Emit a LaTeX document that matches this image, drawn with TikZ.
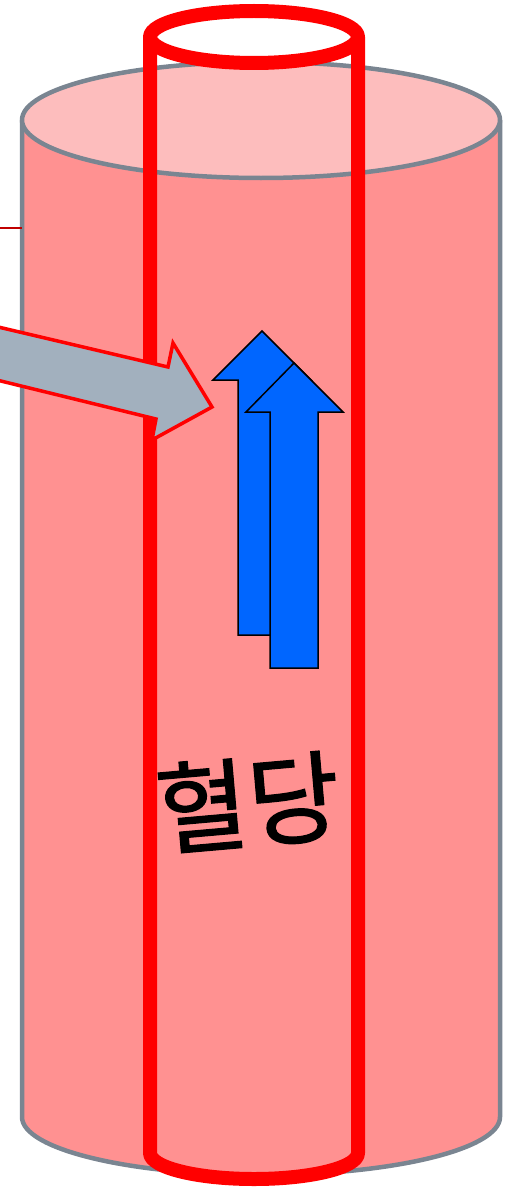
\documentclass[tikz,border=0pt]{standalone}
\usepackage{fontspec}
\newfontfamily\krfont[FakeBold=1.2]{Noto Sans CJK KR}
\definecolor{bodyfill}{HTML}{FF9191}
\definecolor{topfill}{HTML}{FDBDBD}
\definecolor{rimgray}{HTML}{7A8591}
\definecolor{arrowgray}{HTML}{A2B0BE}
\definecolor{flowblue}{HTML}{0066FF}
\definecolor{tubered}{HTML}{FF0000}
\definecolor{tickred}{HTML}{C00000}
\tikzset{
  vessel/.style={draw=rimgray, line width=4.5pt, line join=round},
  tube/.style={draw=tubered, line width=14pt, line join=round},
  inflow/.style={draw=tubered, fill=arrowgray, line width=3.5pt, line join=miter},
  upflow/.style={draw=black, fill=flowblue, line width=1.5pt, line join=miter},
  label/.style={font=\krfont\fontsize{100}{100}\selectfont, inner sep=0pt}
}
\begin{document}
\begin{tikzpicture}[x=1pt, y=-1pt]
\useasboundingbox (0,0) rectangle (513,1188);
\clip (0,0) rectangle (513,1188);
\fill[white] (0,0) rectangle (513,1188);
% outer cylinder: body, then top face
\fill[bodyfill] (22,120) -- (22,1117) arc[start angle=180, end angle=0, x radius=239, y radius=58]
  -- (500,120) arc[start angle=0, end angle=180, x radius=239, y radius=58] -- cycle;
\draw[vessel] (22,120) -- (22,1117) arc[start angle=180, end angle=0, x radius=239, y radius=58] -- (500,120);
\draw[vessel, fill=topfill] (261,120) ellipse[x radius=239, y radius=58];
% short mark at the left edge
\draw[tickred, line width=2pt] (0,228) -- (22,228);
% inner tube
\draw[tube] (150,37) -- (150,1153) arc[start angle=180, end angle=0, x radius=104, y radius=26] -- (358,37);
\draw[tube, fill=white] (254,37) ellipse[x radius=104, y radius=26];
% inflow arrow
\draw[inflow] (-40,318) -- (168,367) -- (173,343) -- (212,407) -- (152,440) -- (156,419) -- (-40,371) -- cycle;
% upward arrows
\draw[upflow] (262,331) -- (311,380) -- (286,380) -- (286,635) -- (238,635) -- (238,380) -- (213,380) -- cycle;
\draw[upflow] (294,363) -- (343,412) -- (318,412) -- (318,668) -- (270,668) -- (270,412) -- (246,412) -- cycle;
% label
\node[label, rotate=5] (sugar) at (248,802) {혈당};
\end{tikzpicture}
\end{document}
